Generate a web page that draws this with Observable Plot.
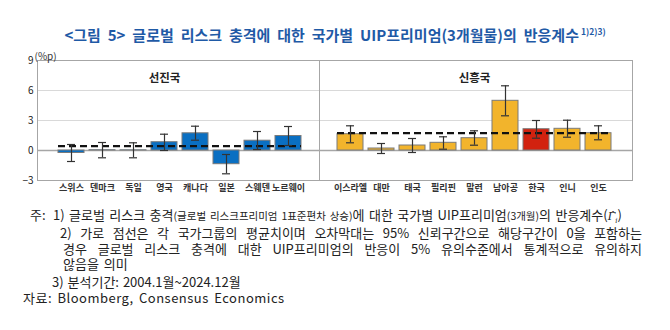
<!DOCTYPE html>
<html><head><meta charset="utf-8">
<script src="https://cdn.jsdelivr.net/npm/d3@7"></script>
<script src="https://cdn.jsdelivr.net/npm/@observablehq/plot@0.6"></script>
<style>
body{margin:0;background:#fff;font-family:"Noto Sans CJK KR",sans-serif;}
#wrap{position:relative;width:670px;height:330px;overflow:hidden;background:#fff;}
#title{position:absolute;left:0;top:25px;width:670px;text-align:center;font-size:15px;font-weight:bold;color:#1f5aa6;line-height:20px;white-space:nowrap;word-spacing:3.5px;}
#title sup{font-size:8.5px;vertical-align:0;position:relative;top:-6px;margin-left:2px;word-spacing:0;}
#chart{position:absolute;left:0;top:45px;}
.n{position:absolute;font-size:13px;line-height:14px;color:#222;white-space:nowrap;}
.j{text-align:justify;text-align-last:justify;}
.s{font-size:10.5px;}
.g{font-family:"DejaVu Serif",serif;font-style:italic;font-size:11px;}
.g sub{font-size:7px;}
</style></head>
<body><div id="wrap">
<div id="title">&lt;그림 5&gt; 글로벌 리스크 충격에 대한 국가별 UIP프리미엄(3개월물)의 반응계수<sup>1)2)3)</sup></div>
<div id="chart"></div>
<div class="n" style="left:30px;top:208px">주:</div>
<div class="n" style="left:53px;top:208px;word-spacing:1.5px">1) 글로벌 리스크 충격<span class="s">(글로벌 리스크프리미엄 1표준편차 상승)</span>에 대한 국가별 UIP프리미엄<span class="s">(3개월)</span>의 반응계수(<span class="g">Γ̂<sub>i</sub></span>)</div>
<div class="n j" style="left:60px;top:226px;width:582px">2) 가로 점선은 각 국가그룹의 평균치이며 오차막대는 95% 신뢰구간으로 해당구간이 0을 포함하는</div>
<div class="n j" style="left:63px;top:242px;width:579px">경우 글로벌 리스크 충격에 대한 UIP프리미엄의 반응이 5% 유의수준에서 통계적으로 유의하지</div>
<div class="n" style="left:63px;top:257px;word-spacing:2px">않음을 의미</div>
<div class="n" style="left:52px;top:275px;word-spacing:1px">3) 분석기간: 2004.1월~2024.12월</div>
<div class="n" style="left:23px;top:291px;letter-spacing:0.5px;word-spacing:2px">자료: Bloomberg, Consensus Economics</div>
</div>
<script>
// ---- data ----
const groups = ["선진국", "신흥국"];
const advCountries = ["스위스", "덴마크", "독일", "영국", "캐나다", "일본", "스웨덴", "노르웨이"];
const advCoef = [-0.25, 0.03, 0.02, 0.83, 1.72, -1.37, 0.98, 1.45];
const advLow  = [-1.1, -0.73, -0.73, 0.0, 1.03, -2.33, 0.1, 0.5];
const advHigh = [0.6, 0.8, 0.77, 1.63, 2.43, -0.4, 1.9, 2.4];
const emCountries = ["이스라엘", "대만", "태국", "필리핀", "말련", "남아공", "한국", "인니", "인도"];
const emCoef = [1.63, 0.2, 0.5, 0.77, 1.23, 4.97, 2.13, 2.17, 1.73];
const emLow  = [0.77, -0.3, -0.2, 0.13, 0.53, 3.47, 1.23, 1.33, 1.07];
const emHigh = [2.47, 0.7, 1.2, 1.37, 1.97, 6.47, 3.0, 3.03, 2.47];
const groupMeans = [0.43, 1.73];
const groupLabelAt = ["영국", "말련"];
const highlight = "한국";
const yTicks = [-3, 0, 3, 6, 9];
const yUnit = "(%p)";
const spacers = ["_s0", "_s1", "_s2"];

// ---- build tables ----
const rows = [
  ...advCountries.map((c, i) => ({country: c, group: groups[0], coef: advCoef[i], lo: advLow[i], hi: advHigh[i]})),
  ...emCountries.map((c, i) => ({country: c, group: groups[1], coef: emCoef[i], lo: emLow[i], hi: emHigh[i]}))
];
const means = [
  {group: groups[0], mean: groupMeans[0], first: advCountries[0], last: advCountries[advCountries.length - 1]},
  {group: groups[1], mean: groupMeans[1], first: emCountries[0], last: emCountries[emCountries.length - 1]}
];
const labels = groups.map((g, i) => ({text: g, at: groupLabelAt[i]}));
const xDomain = [spacers[0], ...advCountries, spacers[1], ...emCountries, spacers[2]];

const W = 670, ML = 37, MR = 38;
const step = (W - ML - MR) / (xDomain.length - 1);
const BLUE = "#0a6fc2", YELLOW = "#f2b42c", RED = "#d2220f", GRID = "#d9d9d9", FRAME = "#a6a6a6";

const chart = Plot.plot({
  width: W, height: 155,
  marginTop: 15, marginBottom: 20, marginLeft: ML, marginRight: MR,
  style: {fontFamily: "Noto Sans CJK KR", fontSize: "9px", color: "#222", background: "transparent", overflow: "visible"},
  x: {type: "band", domain: xDomain, range: [ML - step / 2, W - MR + step / 2],
      paddingInner: 0.17, paddingOuter: 0.085, tickSize: 0, tickPadding: 4,
      tickFormat: d => d.startsWith("_") ? "" : d, label: null},
  y: {domain: [-3, 9], ticks: yTicks, tickSize: 0, tickPadding: 4, label: null},
  marks: [
    Plot.ruleY(yTicks.filter(t => t !== 0 && t !== -3 && t !== 9), {stroke: GRID}),
    Plot.ruleY([0], {stroke: FRAME, strokeWidth: 1.5}),
    Plot.barY(rows, {x: "country", y: "coef",
      fill: d => d.country === highlight ? RED : d.group === groups[0] ? BLUE : YELLOW,
      stroke: "#7a7a7a", strokeWidth: 1}),
    Plot.ruleY(means, {y: "mean", x1: "first", x2: "last", stroke: "#111", strokeWidth: 2.2, strokeDasharray: "7,4"}),
    Plot.ruleX(rows, {x: "country", y1: "lo", y2: "hi", stroke: "#333", strokeWidth: 1.2}),
    Plot.tickY(rows, {x: "country", y: "lo", insetLeft: 9, insetRight: 9, stroke: "#333", strokeWidth: 1.2}),
    Plot.tickY(rows, {x: "country", y: "hi", insetLeft: 9, insetRight: 9, stroke: "#333", strokeWidth: 1.2}),
    Plot.ruleX([spacers[1]], {stroke: FRAME}),
    Plot.frame({stroke: FRAME}),
    Plot.text(labels, {x: "at", text: "text", frameAnchor: "top", dy: 13, fontWeight: "bold", fontSize: 11.5, fill: "#222"}),
    Plot.text([yUnit], {frameAnchor: "top-left", dx: -3, dy: -8, textAnchor: "start", fontSize: 10, fill: "#333"})
  ]
});
d3.select(chart).selectAll('[aria-label^="y-axis"] text').attr("font-size", "10px");
d3.select(chart).selectAll('[aria-label^="x-axis"] text').attr("font-weight", "bold").attr("fill", "#333");
document.getElementById("chart").appendChild(chart);
</script>
</body></html>
